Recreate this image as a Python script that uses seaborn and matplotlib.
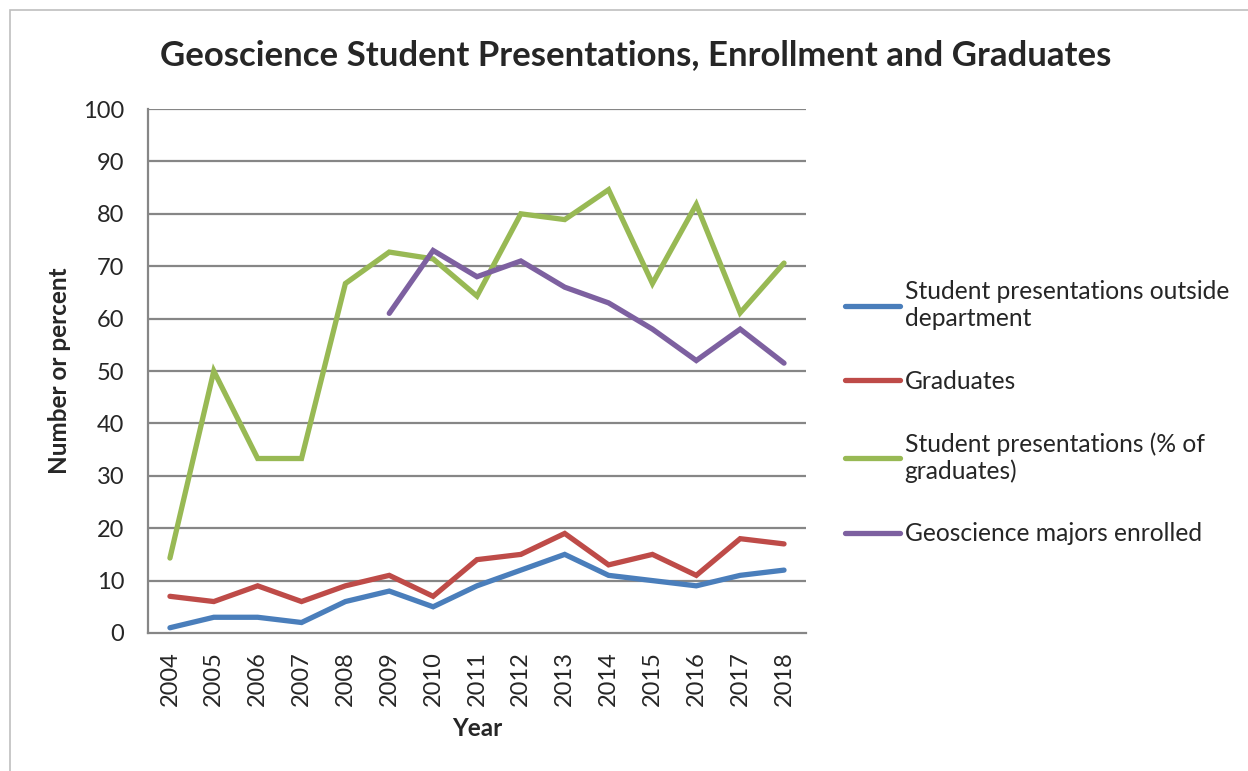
import pandas as pd
import numpy as np
import matplotlib.pyplot as plt
import matplotlib.patches as mpatches
import seaborn as sns

# ---------------------------------------------
# Data
# ---------------------------------------------
years = list(range(2004, 2019))
outside_presentations = [1, 3, 3, 2, 6, 8, 5, 9, 12, 15, 11, 10, 9, 11, 12]
graduates = [7, 6, 9, 6, 9, 11, 7, 14, 15, 19, 13, 15, 11, 18, 17]
presentations_pct = [14.3, 50.0, 33.3, 33.3, 66.7, 72.7, 71.4, 64.3, 80.0, 78.9,
                     84.6, 66.7, 81.8, 61.1, 70.6]
majors_enrolled = [None, None, None, None, None, 61, 73, 68, 71, 66, 63, 58, 52, 58, 51.5]

series_names = ["Student presentations outside\ndepartment",
                "Graduates",
                "Student presentations (% of\ngraduates)",
                "Geoscience majors enrolled"]
series_colors = ["#4A7EBB", "#BE4B48", "#98B954", "#7D60A0"]

long_df = pd.concat([
    pd.DataFrame({"year": years, "value": vals, "series": name})
    for name, vals in zip(series_names,
                          [outside_presentations, graduates, presentations_pct, majors_enrolled])
]).dropna()

# ---------------------------------------------
# Plot
# ---------------------------------------------
sns.set_style("white")
plt.rcParams["font.family"] = ["Lato", "DejaVu Sans"]

fig = plt.figure(figsize=(12.48, 7.71), dpi=100)
ax = fig.add_axes([0.1186, 0.179, 0.5272, 0.6796])

# light chart-area border
fig.add_artist(mpatches.Rectangle((0.008, -0.02), 1.05, 1.007, transform=fig.transFigure,
                                  fill=False, edgecolor="#BFBFBF", linewidth=1.2))

grid_c = "#868686"
for v in range(10, 101, 10):
    ax.axhline(v, color=grid_c, linewidth=1.6, zorder=0)

sns.lineplot(data=long_df, x="year", y="value", hue="series", hue_order=series_names,
             palette=series_colors, linewidth=3.8, ax=ax, legend=True, zorder=3)
for ln in ax.lines:
    ln.set_solid_capstyle("round")
    ln.set_solid_joinstyle("miter")

ax.set_xlim(years[0] - 0.5, years[-1] + 0.5)
ax.set_ylim(0, 100)
ax.set_yticks(range(0, 101, 10))
ax.set_xticks(years)
ax.set_xticklabels([str(y) for y in years], rotation=90, fontsize=17)
ax.set_xticks(np.arange(years[0] - 0.5, years[-1] + 1, 1), minor=True)
ax.tick_params(axis="x", which="major", length=0, pad=13)
ax.tick_params(axis="x", which="minor", length=6, width=1.4, color=grid_c, direction="out")
ax.tick_params(axis="y", length=6, width=1.4, color=grid_c, direction="out", labelsize=17, pad=11)

for side in ["top", "right"]:
    ax.spines[side].set_visible(False)
for side in ["left", "bottom"]:
    ax.spines[side].set_color(grid_c)
    ax.spines[side].set_linewidth(1.6)

ax.set_xlabel("Year", fontsize=17.5, fontweight="bold", labelpad=8)
ax.set_ylabel("Number or percent", fontsize=17.5, fontweight="bold", labelpad=9)

fig.text(0.509, 0.929, "Geoscience Student Presentations, Enrollment and Graduates",
         ha="center", va="center", fontsize=25, fontweight="bold")

handles, labels = ax.get_legend_handles_labels()
for h in handles:
    h.set_solid_capstyle("round")
ax.legend(handles, labels, loc="center left", bbox_to_anchor=(1.044, 0.42), frameon=False,
          fontsize=17.7, handlelength=2.24, handletextpad=0.2, labelspacing=1.6,
          borderaxespad=0)

fig.savefig("out.png", dpi=100)
